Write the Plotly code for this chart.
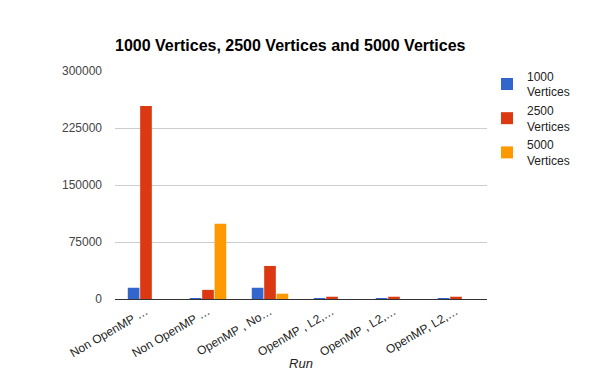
import plotly.graph_objects as go

categories = ["Non OpenMP A", "Non OpenMP B", "OpenMP, No", "OpenMP, L2 A", "OpenMP, L2 B", "OpenMP, L2 C"]
tick_labels = ["Non OpenMP …", "Non OpenMP …", "OpenMP , No…", "OpenMP , L2,…", "OpenMP , L2,…", "OpenMP, L2,…"]
series_names = ["1000<br>Vertices", "2500<br>Vertices", "5000<br>Vertices"]
v1000 = [14800, 500, 14800, 600, 600, 600]
v2500 = [254000, 12000, 43500, 3000, 3000, 3000]
v5000 = [0, 99000, 7000, 0, 0, 0]
y_ticks = [0, 75000, 150000, 225000, 300000]
colors = ["#3366cc", "#dc3912", "#ff9900"]

fig = go.Figure()
for name, vals, c in zip(series_names, [v1000, v2500, v5000], colors):
    fig.add_trace(go.Bar(x=categories, y=vals, name=name, marker=dict(color=c, line=dict(width=0))))

font = "Liberation Sans, Arial, sans-serif"
fig.update_layout(
    width=600, height=371,
    margin=dict(l=115, r=113, t=71, b=72, autoexpand=False),
    paper_bgcolor="white", plot_bgcolor="white",
    barmode="group", bargap=0.4, bargroupgap=0.06,
    font=dict(family=font, size=12, color="#222"),
    title=dict(text="<b>1000 Vertices, 2500 Vertices and 5000 Vertices</b>",
               x=115/600, xanchor="left", y=1-45/371, yanchor="middle",
               font=dict(size=16, color="#000", family=font)),
    legend=dict(x=1.0, y=1.04, xanchor="left", yanchor="top",
                font=dict(size=12, color="#222"), tracegroupgap=3,
                itemwidth=30),
    showlegend=True,
)
fig.update_xaxes(tickvals=categories, ticktext=tick_labels, tickangle=-30,
                 tickfont=dict(size=12, color="#222"), showgrid=False, automargin=False,
                 showline=True, linecolor="#333", linewidth=1, ticks="",
                 title=dict(text="<i>Run</i>", font=dict(size=13, color="#222"), standoff=2))
fig.update_yaxes(range=[0, 300000], tickvals=y_ticks, ticktext=[str(t) for t in y_ticks],
                 showgrid=True, gridcolor="#cccccc", zeroline=False, automargin=False,
                 tickfont=dict(size=12, color="#444"), ticks="", ticklabelstandoff=12)
fig.write_html("out.html", config={"displayModeBar": False},
               post_script="document.body.style.margin='0';document.body.style.overflow='hidden';")
